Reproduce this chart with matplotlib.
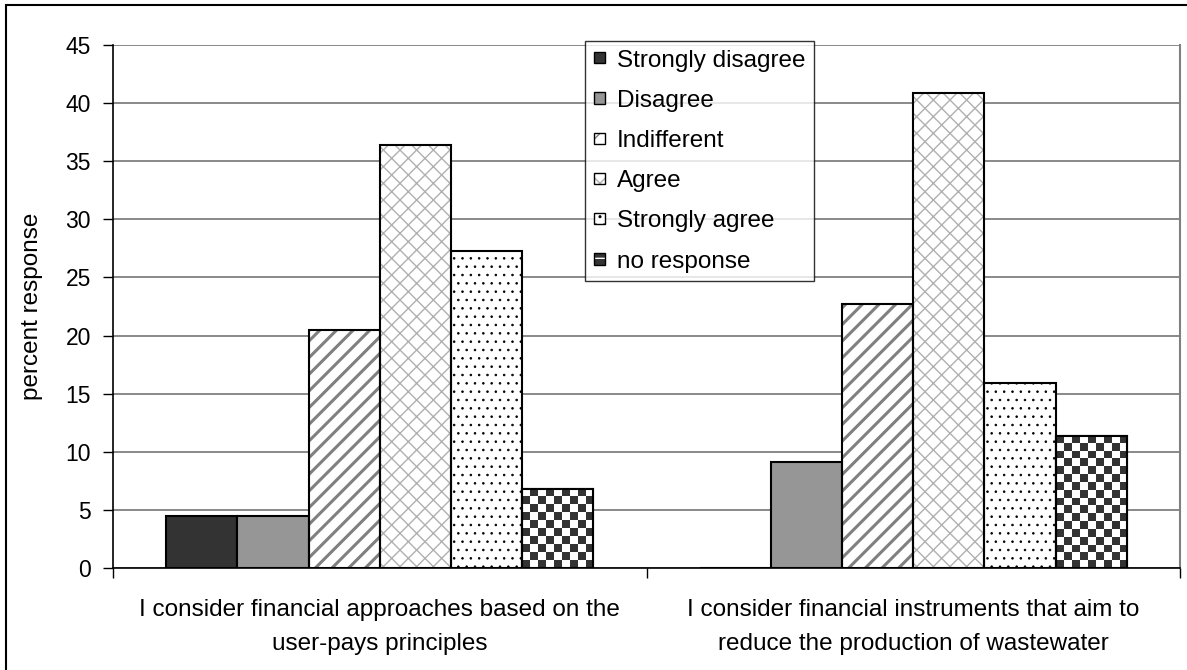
import matplotlib
matplotlib.use('Agg')
import matplotlib.pyplot as plt
import numpy as np
from matplotlib.patches import Patch, Rectangle
from matplotlib.colors import ListedColormap
from matplotlib.legend_handler import HandlerTuple

plt.rcParams['font.family'] = ['Liberation Sans', 'DejaVu Sans']

# data
statements = ['I consider financial approaches based on the\nuser-pays principles',
              'I consider financial instruments that aim to\nreduce the production of wastewater']
responses = ['Strongly disagree', 'Disagree', 'Indifferent', 'Agree', 'Strongly agree', 'no response']
strongly_disagree = [4.5, 0.0]
disagree = [4.5, 9.1]
indifferent = [20.5, 22.7]
agree = [36.4, 40.9]
strongly_agree = [27.3, 15.9]
no_response = [6.8, 11.4]
series = [strongly_disagree, disagree, indifferent, agree, strongly_agree, no_response]
yticks = [0, 5, 10, 15, 20, 25, 30, 35, 40, 45]

# styles: (facecolor, hatch, hatch colour, hatch linewidth)
styles = [
    ('#333333', None, None, 0),
    ('#969696', None, None, 0),
    ('white', '//', '#808080', 2.2),
    ('white', 'xx', '#b0b0b0', 1.0),
    ('white', '..', 'black', 0.6),
    ('checker', None, None, 0),
]
cell_px = 7.7

fig = plt.figure(figsize=(11.87, 6.70), dpi=100)
ax = fig.add_axes([113 / 1187, 1 - 568 / 670, (1180 - 113) / 1187, (568 - 45) / 670])
ax.set_xlim(-0.5, len(statements) - 0.5)
ax.set_ylim(0, 45)

x = np.arange(len(statements))
n = len(responses)
width = 0.8 / n
handles = []
for i, (name, vals) in enumerate(zip(responses, series)):
    pos = x - 0.4 + width * (i + 0.5)
    fc, hatch, hcol, hlw = styles[i]
    if hatch:
        fill = ax.bar(pos, vals, width, color='white', edgecolor=hcol,
                      linewidth=0, hatch=hatch, zorder=2)
        for p in fill:
            if hasattr(p, 'set_hatch_linewidth'):
                p.set_hatch_linewidth(hlw)
        ax.bar(pos, vals, width, facecolor='none', edgecolor='black',
               linewidth=1.5, zorder=3)
        hp = Patch(facecolor='white', edgecolor=hcol, hatch=hatch, linewidth=0)
        if hasattr(hp, 'set_hatch_linewidth'):
            hp.set_hatch_linewidth(hlw)
        handles.append((hp, Patch(facecolor='none', edgecolor='black', linewidth=1)))
    elif fc == 'checker':
        bars = ax.bar(pos, vals, width, facecolor='white', edgecolor='black',
                      linewidth=1.5, zorder=2)
        for bar in bars:
            x0, y0 = bar.get_x(), bar.get_y()
            w, h = bar.get_width(), bar.get_height()
            (px0, py0), (px1, py1) = ax.transData.transform([(x0, y0), (x0 + w, y0 + h)])
            nx = max(1, int(round((px1 - px0) / cell_px)))
            ny = max(1, int(round((py1 - py0) / cell_px)))
            board = np.indices((ny, nx)).sum(axis=0) % 2
            ax.imshow(board, cmap=ListedColormap(['#333333', 'white']),
                      extent=(x0, x0 + w, y0, y0 + h), origin='lower',
                      interpolation='nearest', aspect='auto', zorder=2.5)
        ax.bar(pos, vals, width, facecolor='none', edgecolor='black',
               linewidth=1.5, zorder=3)
        handles.append((Patch(facecolor='#333333', edgecolor='none'),
                        Patch(facecolor='none', edgecolor='white', hatch='+', linewidth=0),
                        Patch(facecolor='none', edgecolor='black', linewidth=1)))
    else:
        ax.bar(pos, vals, width, color=fc, edgecolor='black', linewidth=1.5, zorder=3)
        handles.append(Patch(facecolor=fc, edgecolor='black', linewidth=1))

ax.set_xlim(-0.5, len(statements) - 0.5)
ax.set_ylim(0, 45)

# axes styling
ax.set_axisbelow(True)
ax.set_yticks(yticks)
ax.yaxis.grid(True, color='#808080', linewidth=1.3)
ax.tick_params(axis='y', direction='out', length=7, width=1, pad=9, labelsize=16.5)
ax.set_xticks(x)
ax.set_xticklabels(statements, fontsize=17.5, linespacing=1.75)
ax.set_xticks([-0.5, 0.5, 1.5], minor=True)
ax.tick_params(axis='x', which='major', length=0, pad=22)
ax.tick_params(axis='x', which='minor', length=7, width=1, direction='out')
for s in ['left', 'bottom']:
    ax.spines[s].set_color('black')
    ax.spines[s].set_linewidth(1.2)
ax.spines['top'].set_visible(False)
ax.spines['right'].set_color('#808080')
ax.spines['right'].set_linewidth(1.5)
ax.set_ylabel('percent response', fontsize=17.5)
ax.yaxis.set_label_coords(-0.066, 0.5)

leg = ax.legend(handles, responses, handler_map={tuple: HandlerTuple(ndivide=1, pad=0)},
                loc='upper left', bbox_to_anchor=(585 / 1187, 1 - 41 / 670),
                bbox_transform=fig.transFigure, fontsize=17.5, frameon=True,
                fancybox=False, shadow=False, borderaxespad=0, borderpad=0.35,
                handlelength=0.46, handleheight=0.33, handletextpad=0.5,
                labelspacing=0.75)
leg.get_frame().set_edgecolor('black')
leg.get_frame().set_linewidth(1)
leg.set_zorder(5)

# outer chart border (only left and top edges fall inside the image)
fig.patches.append(Rectangle((6 / 1187, -0.05), 1.2, 1 - 5 / 670 + 0.05,
                             transform=fig.transFigure, fill=False,
                             edgecolor='black', linewidth=1.5))

fig.savefig('out.png', dpi=100)
